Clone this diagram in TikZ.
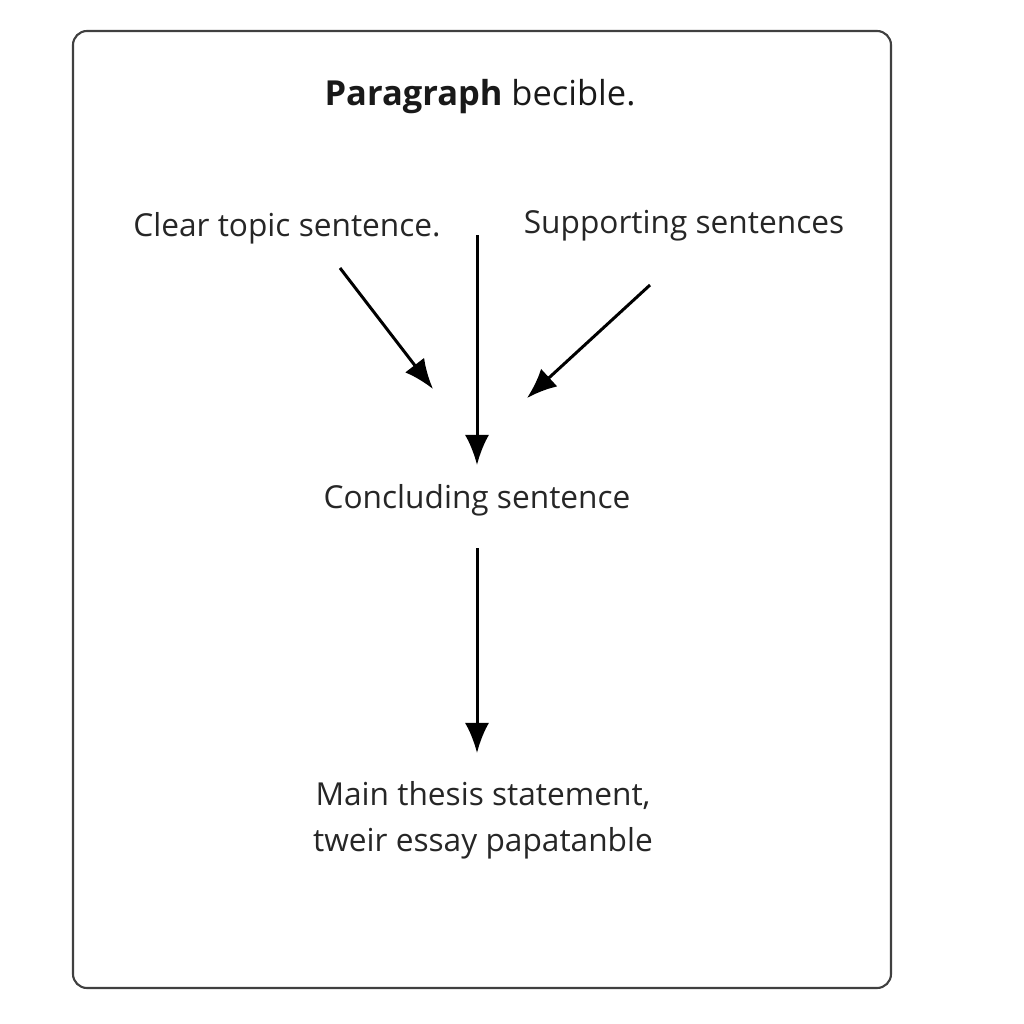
\documentclass[tikz,border=0pt]{standalone}
\usepackage{fontspec}
\setmainfont{Open Sans}
\usetikzlibrary{arrows.meta}
\begin{document}
\begin{tikzpicture}
[x=0.01cm,y=-0.01cm,
frame/.style={draw=black!75,line width=0.6pt,rounded corners=0.14cm},
label/.style={font=\fontsize{9}{13}\selectfont,text=black!85,inner sep=1pt},
title/.style={font=\fontsize{9.8}{12}\selectfont,text=black!90},
flow/.style={line width=0.85pt,-{Latex[length=0.3cm,width=0.24cm]}}]
\useasboundingbox (0,0) rectangle (1024,1024);
\draw[frame] (73,31) rectangle (891,988);
\node[title] (head) at (480,97) {\textbf{Paragraph} becible.};
\node[label] (topic) at (287,228) {Clear topic sentence.};
\node[label] (support) at (684,226) {Supporting sentences};
\node[label] (concl) at (477,500) {Concluding sentence};
\node[label,align=center] (thesis) at (483,820) {Main thesis statement,\\tweir essay papatanble};
% free ends of the three upper arrows
\coordinate (mid) at (477,235);
\coordinate (ltail) at (340,268);
\coordinate (lhead) at (433,389);
\coordinate (rtail) at (650,285);
\coordinate (rhead) at (527,398);
\draw[flow] (mid) -- (concl.north |- 0,465);
\draw[flow] (ltail) -- (lhead);
\draw[flow] (rtail) -- (rhead);
\draw[flow] (concl.south |- 0,548) -- (concl.south |- 0,753);
\end{tikzpicture}
\end{document}
